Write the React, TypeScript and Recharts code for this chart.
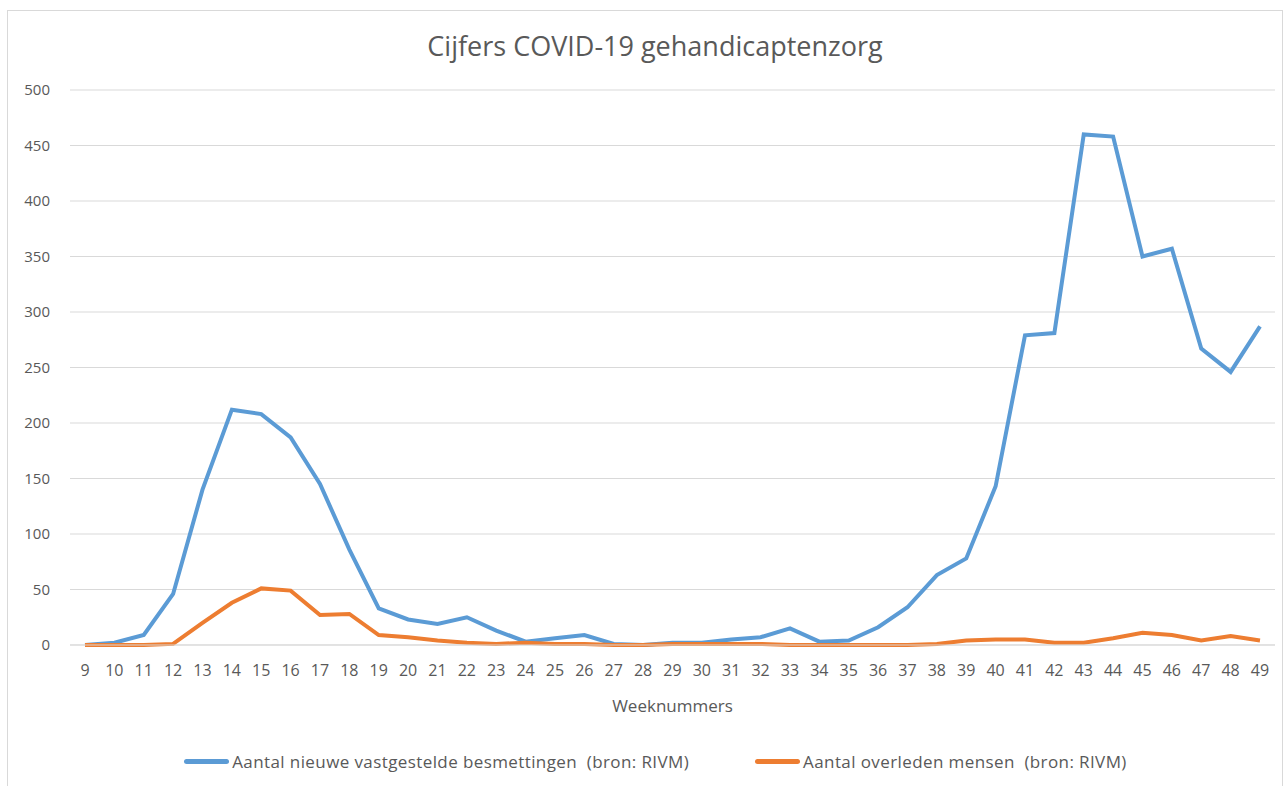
import React from "react";
import {
  LineChart, Line, XAxis, YAxis, CartesianGrid, Legend,
} from "recharts";

const weeks = [
  9, 10, 11, 12, 13, 14, 15, 16, 17, 18, 19, 20, 21, 22, 23, 24, 25, 26, 27, 28,
  29, 30, 31, 32, 33, 34, 35, 36, 37, 38, 39, 40, 41, 42, 43, 44, 45, 46, 47, 48, 49,
];

// Aantal nieuwe vastgestelde besmettingen (bron: RIVM)
const besmettingen = [
  0, 2, 9, 46, 140, 212, 208, 187, 145, 86, 33, 23, 19, 25, 13, 3, 6, 9, 1, 0,
  2, 2, 5, 7, 15, 3, 4, 16, 34, 63, 78, 143, 279, 281, 460, 458, 350, 357, 267, 246, 287,
];

// Aantal overleden mensen (bron: RIVM)
const overleden = [
  0, 0, 0, 1, 20, 38, 51, 49, 27, 28, 9, 7, 4, 2, 1, 2, 1, 1, 0, 0,
  1, 1, 1, 1, 0, 0, 0, 0, 0, 1, 4, 5, 5, 2, 2, 6, 11, 9, 4, 8, 4,
];

const yTicks = [0, 50, 100, 150, 200, 250, 300, 350, 400, 450, 500];

const BLUE = "#5B9BD5";
const ORANGE = "#ED7D31";
const TEXT = "#595959";
const GRID = "#D9D9D9";
const FONT = "'Open Sans', sans-serif";

const data = weeks.map((w, i) => ({
  week: String(w),
  besmettingen: besmettingen[i],
  overleden: overleden[i],
}));

// eslint-disable-next-line @typescript-eslint/no-explicit-any
const LegendContent = ({ payload }: any) => (
  <div style={{ display: "flex", justifyContent: "center", alignItems: "center", gap: 66, height: 40, paddingLeft: 36 }}>
    {(payload || []).map((p: any) => (
      <div key={p.value} style={{ display: "flex", alignItems: "center" }}>
        <span style={{ display: "inline-block", width: 45, height: 5, borderRadius: 3, background: p.color, marginRight: 3 }} />
        <span style={{ fontSize: 17, color: TEXT, fontFamily: FONT, letterSpacing: 0.4, whiteSpace: "pre" }}>{p.value}</span>
      </div>
    ))}
  </div>
);

export default function App() {
  return (
    <div style={{ position: "absolute", left: 0, top: 0, width: 1285, height: 786, background: "#fff", overflow: "hidden" }}>
      {/* chart border */}
      <div style={{ position: "absolute", left: 7, top: 10, width: 1274, height: 790, border: "1px solid #D9D9D9" }} />
      {/* title */}
      <div
        style={{
          position: "absolute", left: 0, top: 27, width: 1310, textAlign: "center",
          fontFamily: FONT, fontSize: 27, color: TEXT,
        }}
      >
        Cijfers COVID-19 gehandicaptenzorg
      </div>
      <div style={{ position: "absolute", left: 0, top: 0 }}>
        <LineChart width={1285} height={786} data={data} margin={{ top: 90, right: 10, left: 0, bottom: 5 }}>
          <CartesianGrid vertical={false} stroke={GRID} strokeWidth={1} />
          <XAxis
            dataKey="week"
            padding={{ left: 15, right: 15 }}
            height={96}
            tickLine={false}
            axisLine={{ stroke: GRID }}
            tick={{ fontSize: 16, fill: TEXT, fontFamily: FONT }}
            tickMargin={14}
            interval={0}
            label={{ value: "Weeknummers", position: "insideTop", offset: 55, fontSize: 17, fill: TEXT, fontFamily: FONT }}
          />
          <YAxis
            domain={[0, 500]}
            ticks={yTicks}
            width={70}
            tickLine={false}
            axisLine={false}
            tick={{ fontSize: 15, fill: TEXT, fontFamily: FONT }}
            tickMargin={14}
          />
          <Legend verticalAlign="bottom" height={40} content={<LegendContent />} />
          <Line
            type="linear"
            dataKey="besmettingen"
            name="Aantal nieuwe vastgestelde besmettingen  (bron: RIVM)"
            stroke={BLUE}
            strokeWidth={4}
            dot={false}
            isAnimationActive={false}
          />
          <Line
            type="linear"
            dataKey="overleden"
            name="Aantal overleden mensen  (bron: RIVM)"
            stroke={ORANGE}
            strokeWidth={4}
            dot={false}
            isAnimationActive={false}
          />
        </LineChart>
      </div>
    </div>
  );
}
